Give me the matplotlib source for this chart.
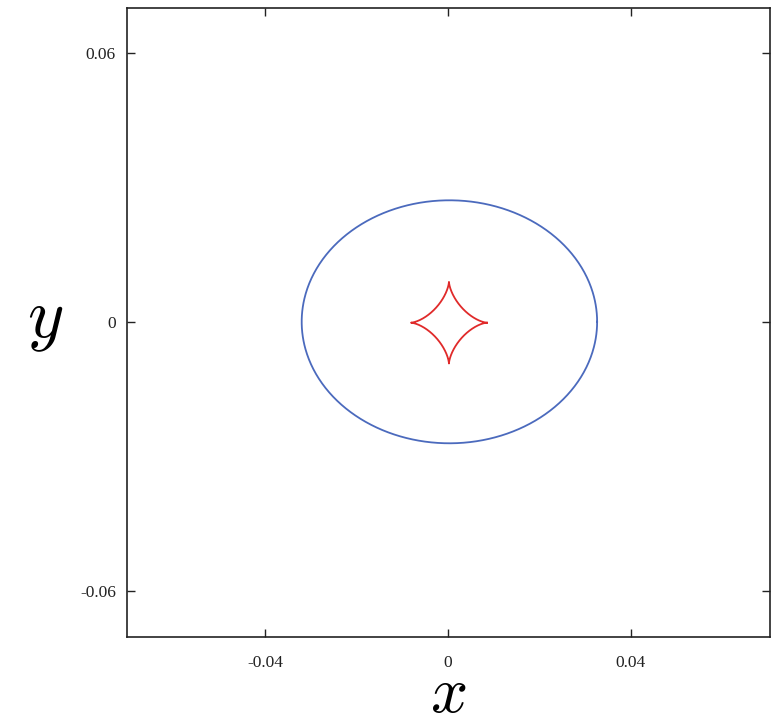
import numpy as np
import matplotlib
matplotlib.use("Agg")
import matplotlib.pyplot as plt

# critical curve (ellipse) and caustic (astroid), sizes
ellipse_center = (0.0003, 0.0)
ellipse_axes = (0.0323, 0.0271)   # semi-axes in x, y
caustic_center = (0.0002, -0.0002)
caustic_axes = (0.0083, 0.0091)   # cusp distances in x, y

xticks = [-0.04, 0, 0.04]
xticklabels = ["-0.04", "0", "0.04"]
yticks = [-0.06, 0, 0.06]
yticklabels = ["-0.06", "0", "0.06"]
xlim = (-0.0702, 0.0704)
ylim = (-0.0703, 0.0700)

plt.rcParams['mathtext.fontset'] = 'cm'
plt.rcParams['font.family'] = ['Liberation Serif', 'DejaVu Serif']

fig = plt.figure(figsize=(7.71, 7.24), dpi=100)
ax = fig.add_axes([0.1647, 0.1202, 0.834, 0.8688])

t = np.linspace(0, 2*np.pi, 721)
ax.plot(ellipse_center[0] + ellipse_axes[0]*np.cos(t),
        ellipse_center[1] + ellipse_axes[1]*np.sin(t),
        color='#4b6abd', lw=1.3)
ax.plot(caustic_center[0] + caustic_axes[0]*np.cos(t)**3,
        caustic_center[1] + caustic_axes[1]*np.sin(t)**3,
        color='#e02a2a', lw=1.3)

ax.set_xlim(*xlim)
ax.set_ylim(*ylim)
ax.set_xticks(xticks)
ax.set_xticklabels(xticklabels)
ax.set_yticks(yticks)
ax.set_yticklabels(yticklabels)
ax.tick_params(direction='in', length=6, width=1, top=True, right=True,
               labelsize=12.5, colors='#222222')
ax.tick_params(axis='x', pad=13)
ax.tick_params(axis='y', pad=8)
for s in ax.spines.values():
    s.set_linewidth(1.2)
    s.set_color('#222222')

fig.text(0.581, 0.038, r'$x$', fontsize=47, ha='center', va='center')
fig.text(0.058, 0.555, r'$y$', fontsize=50, ha='center', va='center')

fig.savefig('out.png', dpi=100)
